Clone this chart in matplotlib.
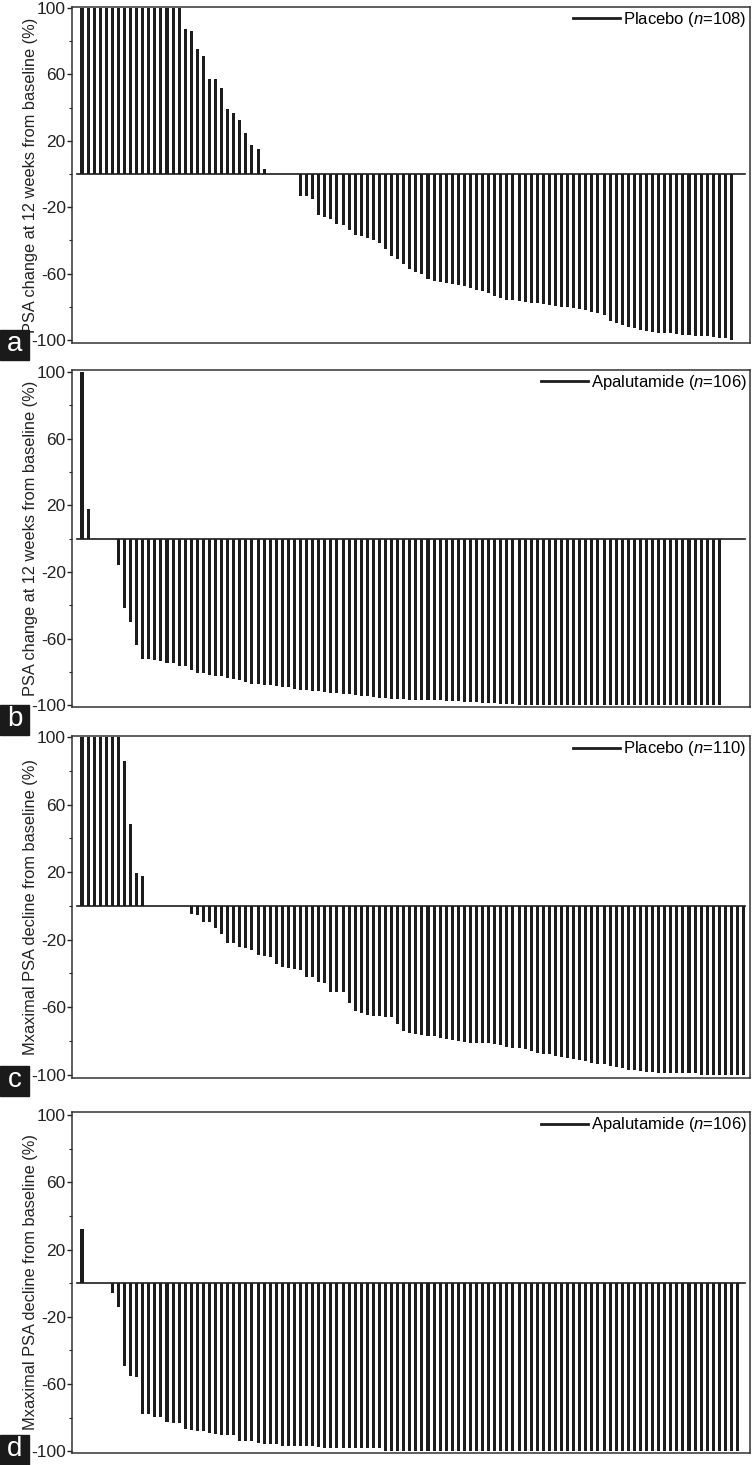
import numpy as np
import matplotlib
matplotlib.use("Agg")
import matplotlib.pyplot as plt
from matplotlib.lines import Line2D
from matplotlib.patches import Rectangle

plt.rcParams['font.family'] = ['Liberation Sans', 'DejaVu Sans']
plt.rcParams['mathtext.fontset'] = 'custom'
plt.rcParams['mathtext.it'] = 'Liberation Sans:italic'
plt.rcParams['mathtext.rm'] = 'Liberation Sans'

# a: PSA change at 12 weeks, placebo
psa12_placebo = ([100] * 17 +
                 [87.5, 86, 75, 71, 57, 57, 52, 39, 37, 32.5, 25, 17.5, 15, 3] +
                 [0] * 5 +
                 [-13.5, -13.5, -15, -24.5, -26, -27, -30, -30.5, -34, -36.5, -37.5, -38.5, -39.5,
                  -41.5, -45, -49.5, -51, -54, -57.5, -59, -60, -63.5, -64.5, -65, -65.5] +
                 [-66, -66.7, -67.7, -68.5, -69.7, -70.5, -71.7, -73.7, -74.7, -75.7, -76, -76.5,
                  -77, -77.6, -78, -78.6, -79, -79.4, -80, -80.4, -81, -81.6, -82, -83, -83.6, -85,
                  -88.5, -90, -91, -92, -93, -93.7, -94.5, -95.3, -95.5, -95.7, -96, -96.5, -96.7,
                  -97, -97.3, -97.5, -97.7, -98, -98.5, -99, -100])

# b: PSA change at 12 weeks, apalutamide
psa12_apalutamide = ([100, 17.5] + [0] * 4 +
                     [-16, -41.5, -50, -64, -72, -72, -73, -73.5, -74.5, -74.5, -76.5, -76.5,
                      -78.5, -80.5, -80.5, -81.5, -82.5, -82.5, -83.5, -84, -84.5, -86, -87, -87,
                      -87.5, -88, -88.5, -89, -89, -90, -90.5, -91, -91.5, -91.5, -92, -92.5,
                      -92.5, -93, -93, -93.5, -94.5, -94.5, -95] +
                     [-95.5, -95.5, -96, -96, -96, -96.5, -96.5, -96.5, -97, -97, -97, -97.5,
                      -97.5, -97.5, -98, -98, -98, -98.5, -98.5, -98.5, -99, -99, -99] +
                     [-100] * 34)

# c: maximal PSA decline, placebo
maxdecline_placebo = ([100] * 7 + [85.5, 48.5, 19.5, 17.5] + [0] * 7 +
                      [-5, -5.5, -9.5, -9.5, -13, -16.5, -22, -22, -24.5, -25, -26, -29, -29.5,
                       -30.5, -34.5, -36.5, -37, -37.5, -38, -42, -42, -45, -45.5, -51, -51, -51,
                       -57.5, -62.5, -63.5, -64.5, -65.5] +
                      [-65.5, -66, -66, -70, -74, -75.5, -76, -76.5, -77, -77, -78.5, -79, -79.5,
                       -80, -80.5, -81, -81, -81.5, -81.5, -82, -82.5, -83.5, -84, -84.5, -85, -86,
                       -87, -87.5, -88, -89, -89.5, -90, -91, -91.5, -92, -93, -93.5, -94, -95,
                       -95.5, -96, -97, -97.5, -98, -98.5, -98.5] +
                      [-99] * 7 + [-100] * 8)

# d: maximal PSA decline, apalutamide
maxdecline_apalutamide = ([32] + [0] * 4 +
                          [-6, -14, -49.5, -55, -55.5, -77.5, -78, -79.5, -79.5, -82.5, -83, -83,
                           -86.5, -87, -88, -88, -89, -89.5, -90, -90, -90.5, -94, -94, -94, -95,
                           -95.5, -95.5, -95.5, -96.5, -96.5, -96.5, -96.5, -96.5, -97, -97.5] +
                          [-98] * 10 +
                          [-100] * 59)

# letter, values, legend, ylabel, axes top/bottom (px), ylim, letter box top (px)
panels = [
    ('a', psa12_placebo, 'Placebo ($n$=108)', 'PSA change at 12 weeks from baseline (%)',
     7, 343, (-101.8, 100.6), 330),
    ('b', psa12_apalutamide, 'Apalutamide ($n$=106)', 'PSA change at 12 weeks from baseline (%)',
     370, 707, (-101.0, 101.2), 705),
    ('c', maxdecline_placebo, 'Placebo ($n$=110)', 'Mxaximal PSA decline from baseline (%)',
     736, 1078, (-102.0, 100.6), 1066),
    ('d', maxdecline_apalutamide, 'Apalutamide ($n$=106)', 'Mxaximal PSA decline from baseline (%)',
     1112, 1453, (-100.9, 101.7), 1435),
]

W, H = 752, 1465
bar_color = '#1c1c1c'
fig = plt.figure(figsize=(W / 100, H / 100), dpi=100)

for letter, values, legend_text, ylabel, top, bottom, ylim, box_top in panels:
    ax = fig.add_axes([72 / W, 1 - bottom / H, (750 - 72) / W, (bottom - top) / H])
    x = np.arange(len(values))
    ax.bar(x, values, width=0.5, color=bar_color, linewidth=0)
    ax.plot([-0.8, 109.2], [0, 0], color=bar_color, linewidth=1.2)
    ax.set_xlim(-1.65, 110.05)
    ax.set_ylim(*ylim)
    ax.set_xticks([])
    ax.set_yticks([100, 60, 20, -20, -60, -100])
    ax.set_yticklabels(['100', '60', '20', '-20', '-60', '-100'])
    ax.set_yticks([80, 40, 0, -40, -80], minor=True)
    ax.tick_params(axis='y', which='major', direction='out', length=3.5, width=1,
                   labelsize=12.5, pad=1, colors='#222222')
    ax.tick_params(axis='y', which='minor', direction='out', length=2, width=0.8, colors='#222222')
    for spine in ax.spines.values():
        spine.set_linewidth(1.1)
        spine.set_color('#333333')
    ax.set_ylabel(ylabel, fontsize=11.8, color='#222222')
    ax.yaxis.set_label_coords(-0.05, 0.5)
    handle = Line2D([], [], color=bar_color, linewidth=2)
    ax.legend([handle], [legend_text], loc='upper right', frameon=False, fontsize=12,
              handlelength=2.8, handletextpad=0.2, borderaxespad=0.1, borderpad=0.1)

    # panel letter in a black box
    fig.patches.append(Rectangle((0, 1 - (box_top + 30) / H), 29 / W, 30 / H,
                                 transform=fig.transFigure, color='#1a1a1a', zorder=5))
    fig.text(14.5 / W, 1 - (box_top + 14) / H, letter, color='white', fontsize=20,
             ha='center', va='center', zorder=6)

fig.savefig('out.png', dpi=100)
